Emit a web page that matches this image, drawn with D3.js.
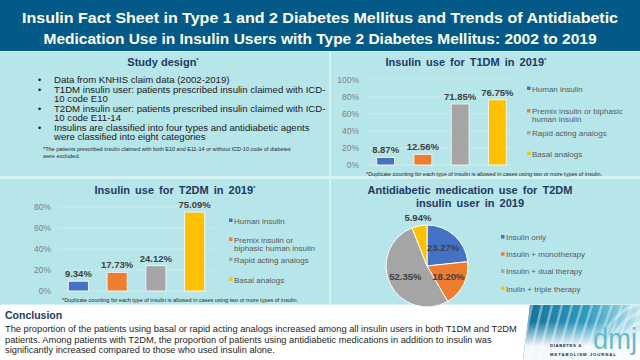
<!DOCTYPE html>
<html lang="en">
<head>
<meta charset="UTF-8">
<title>Insulin Fact Sheet</title>
<script src="https://d3js.org/d3.v7.min.js"></script>
<style>
  body { margin: 0; background: #fff; }
  svg { display: block; font-family: "Liberation Sans", Arial, sans-serif; }
  .tick-label { font-size: 8.5px; fill: #7f7f7f; }
  .val-label { font-size: 9.5px; font-weight: bold; fill: #404040; }
  .legend text { font-size: 8px; fill: #595959; }
  .panel-title { font-size: 11px; font-weight: bold; fill: #1f3864; }
  .note { font-size: 5.5px; fill: #262626; }
</style>
</head>
<body>
<svg id="chart" width="640" height="360"></svg>
<script>
// ---- data ----
const titleLines = [
  "Insulin Fact Sheet in Type 1 and 2 Diabetes Mellitus and Trends of Antidiabetic",
  "Medication Use in Insulin Users with Type 2 Diabetes Mellitus: 2002 to 2019"
];
const studyBullets = [
  ["Data from KNHIS claim data (2002-2019)"],
  ["T1DM insulin user: patients prescribed insulin claimed with ICD-", "10 code E10"],
  ["T2DM insulin user: patients prescribed insulin claimed with ICD-", "10 code E11-14"],
  ["Insulins are classified into four types and antidiabetic agents", "were classified into eight categories"]
];
const studyNote = [
  "*The patients prescribed insulin claimed with both E10 and E11-14 or without ICD-10 code of diabetes",
  "were excluded."
];
const insulinTypes = ["Human insulin", "Premix insulin or biphasic human insulin", "Rapid acting analogs", "Basal analogs"];
const t1dmValues = [8.87, 12.56, 71.85, 76.75];
const t1dmTicks = [0, 20, 40, 60, 80, 100];
const t1dmLegend = [["Human insulin"], ["Premix insulin or biphasic", "human insulin"], ["Rapid acting analogs"], ["Basal analogs"]];
const t2dmValues = [9.34, 17.73, 24.12, 75.09];
const t2dmTicks = [0, 20, 40, 60, 80];
const t2dmLegend = [["Human insulin"], ["Premix insulin or", "biphasic human insulin"], ["Rapid acting analogs"], ["Basal analogs"]];
const dupNote = "*Duplicate counting for each type of insulin is allowed in cases using two or more types of insulin.";
const medCategories = ["Insulin only", "Insulin + monotherapy", "Insulin + dual therapy", "Inulin + triple therapy"];
const medValues = [23.27, 18.20, 52.35, 5.94];
const conclusionLines = [
  "The proportion of the patients using basal or rapid acting analogs increased among all insulin users in both T1DM and T2DM",
  "patients. Among patients with T2DM, the proportion of patients using antidiabetic medications in addition to insulin was",
  "significantly increased compared to those who used insulin alone."
];
const colors = ["#4472c4", "#ed7d31", "#a5a5a5", "#ffc000"];

const svg = d3.select("#chart");
const defs = svg.append("defs");

// ---- backgrounds ----
svg.append("rect").attr("width", 640).attr("height", 360).attr("fill", "#d5f2f3");
svg.append("rect").attr("width", 640).attr("height", 51).attr("fill", "#035a88");
const panels = [[0, 52, 329, 124], [331, 52, 309, 124], [0, 179, 329, 125], [331, 179, 309, 125]];
svg.selectAll(".panel").data(panels).enter().append("rect")
  .attr("x", d => d[0]).attr("y", d => d[1]).attr("width", d => d[2]).attr("height", d => d[3])
  .attr("fill", "#b6e6ea");
svg.append("rect").attr("y", 305).attr("width", 640).attr("height", 55).attr("fill", "#fff");

// ---- title ----
svg.selectAll(".main-title").data(titleLines).enter().append("text")
  .attr("x", 320).attr("y", (d, i) => 23 + i * 21)
  .attr("text-anchor", "middle")
  .attr("textLength", (d, i) => i === 0 ? 596 : 553)
  .attr("lengthAdjust", "spacingAndGlyphs")
  .attr("fill", "#fff").attr("font-size", 15).attr("font-weight", "bold")
  .text(d => d);

// ---- study design ----
const sd = svg.append("g");
sd.append("text").attr("class", "panel-title").attr("x", 163).attr("y", 66).attr("text-anchor", "middle")
  .text("Study design").append("tspan").attr("font-size", 6).attr("dy", -4).text("*");
let ly = 83;
studyBullets.forEach(lines => {
  sd.append("text").attr("x", 38).attr("y", ly).attr("font-size", 9).attr("fill", "#1a1a1a").text("•");
  lines.forEach((l, j) => {
    sd.append("text").attr("x", 54).attr("y", ly).attr("font-size", 9.6).attr("fill", "#1a1a1a").text(l);
    ly += j < lines.length - 1 ? 8.6 : 10.3;
  });
});
studyNote.forEach((l, i) => {
  sd.append("text").attr("class", "note").attr("font-size", 6.6).attr("x", 43).attr("y", 151 + i * 7).text(l);
});

// ---- bar chart helper ----
function barChart(cfg) {
  const g = svg.append("g");
  const x = d3.scaleBand().domain(insulinTypes).range(cfg.xRange).paddingInner(cfg.pad).paddingOuter(cfg.pad / 2);
  const y = d3.scaleLinear().domain([0, d3.max(cfg.ticks)]).range(cfg.yRange);

  g.append("text").attr("class", "panel-title").attr("x", cfg.titleX).attr("y", cfg.titleY)
    .attr("text-anchor", "middle").attr("word-spacing", 2)
    .text(cfg.title).append("tspan").attr("font-size", 6).attr("dy", -4).text("*");

  g.selectAll(".grid").data(cfg.ticks).enter().append("line")
    .attr("x1", cfg.xRange[0]).attr("x2", cfg.xRange[1])
    .attr("y1", d => y(d)).attr("y2", d => y(d))
    .attr("stroke", "#d5eaec").attr("stroke-width", 0.8);
  g.selectAll(".tick-label").data(cfg.ticks).enter().append("text")
    .attr("class", "tick-label").attr("x", cfg.xRange[0] - 8).attr("y", d => y(d) + 3)
    .attr("text-anchor", "end").text(d => d + "%");

  g.selectAll(".bar").data(cfg.values).enter().append("rect")
    .attr("x", (d, i) => x(insulinTypes[i])).attr("width", x.bandwidth())
    .attr("y", d => y(d)).attr("height", d => y(0) - y(d))
    .attr("fill", (d, i) => colors[i]).attr("stroke", "#f2f2f2").attr("stroke-width", 1);
  g.selectAll(".val-label").data(cfg.values).enter().append("text")
    .attr("class", "val-label").attr("text-anchor", "middle")
    .attr("x", (d, i) => x(insulinTypes[i]) + x.bandwidth() / 2)
    .attr("y", d => y(d) - 4).text(d => d.toFixed(2) + "%");

  const leg = g.append("g").attr("class", "legend");
  cfg.legend.forEach((lines, i) => {
    const yy = cfg.legendY[i];
    leg.append("rect").attr("x", cfg.legendX).attr("y", yy - 2.5).attr("width", 3.5).attr("height", 3.5).attr("fill", colors[i]);
    lines.forEach((l, j) => {
      leg.append("text").attr("x", cfg.legendX + 5).attr("y", yy + 2.5 + j * 8).text(l);
    });
  });

  g.append("text").attr("class", "note").attr("x", cfg.noteX).attr("y", cfg.noteY).text(dupNote);
}

barChart({
  title: "Insulin use for T1DM in 2019", titleX: 466, titleY: 66,
  values: t1dmValues, ticks: t1dmTicks, legend: t1dmLegend,
  xRange: [367, 516], yRange: [165, 80], pad: 0.52,
  legendX: 527, legendY: [89, 111.5, 133.5, 154],
  noteX: 366, noteY: 175.5
});
barChart({
  title: "Insulin use for T2DM in 2019", titleX: 175, titleY: 194,
  values: t2dmValues, ticks: t2dmTicks, legend: t2dmLegend,
  xRange: [59, 214], yRange: [291, 207], pad: 0.48,
  legendX: 229, legendY: [221, 240, 260, 280],
  noteX: 62, noteY: 302
});

// ---- conclusion ----
svg.append("text").attr("x", 5).attr("y", 319).attr("font-size", 10.5).attr("font-weight", "bold")
  .attr("fill", "#1f3864").text("Conclusion");
conclusionLines.forEach((l, i) => {
  svg.append("text").attr("x", 5).attr("y", 332 + i * 10.7).attr("font-size", 9.3).attr("fill", "#262626").text(l);
});

// ---- logo ----
const grad = defs.append("linearGradient").attr("id", "lg").attr("x1", 0).attr("x2", 1).attr("y1", 0).attr("y2", 0);
grad.append("stop").attr("offset", 0).attr("stop-color", "#136f9a");
grad.append("stop").attr("offset", 0.55).attr("stop-color", "#2f9cbf");
grad.append("stop").attr("offset", 1).attr("stop-color", "#bfe6ee");
const fade = defs.append("linearGradient").attr("id", "fade").attr("x1", 0).attr("x2", 0).attr("y1", 0).attr("y2", 1);
fade.append("stop").attr("offset", 0.3).attr("stop-color", "#fff").attr("stop-opacity", 0);
fade.append("stop").attr("offset", 0.75).attr("stop-color", "#fff").attr("stop-opacity", 0.95);
defs.append("clipPath").attr("id", "logoClip").append("path")
  .attr("d", "M530,305 L640,305 L640,360 L523,360 Z");
const logo = svg.append("g").attr("clip-path", "url(#logoClip)");
logo.append("rect").attr("x", 523).attr("y", 305).attr("width", 117).attr("height", 55).attr("fill", "url(#lg)");
d3.range(14).forEach(i => {
  logo.append("path")
    .attr("d", `M${520 + i * 9},362 L${532 + i * 10},305`)
    .attr("stroke", "#dff3f7").attr("stroke-opacity", 0.45).attr("stroke-width", 2.6);
});
d3.range(5).forEach(i => {
  logo.append("circle").attr("cx", 652).attr("cy", 352).attr("r", 14 + i * 9)
    .attr("fill", "none").attr("stroke", "#ffffff").attr("stroke-opacity", 0.35).attr("stroke-width", 3.5);
});
logo.append("rect").attr("x", 523).attr("y", 305).attr("width", 117).attr("height", 55).attr("fill", "url(#fade)");
logo.append("text").attr("x", 593).attr("y", 349).attr("font-size", 30).attr("fill", "#66b9cc")
  .attr("textLength", 44).attr("lengthAdjust", "spacingAndGlyphs").text("dmj");
logo.append("text").attr("x", 550).attr("y", 347).attr("font-size", 4.3).attr("font-weight", "bold")
  .attr("letter-spacing", 0.6).attr("fill", "#1b2a4a").text("DIABETES &");
logo.append("text").attr("x", 550).attr("y", 356).attr("font-size", 4.3).attr("font-weight", "bold")
  .attr("letter-spacing", 0.9).attr("fill", "#1b2a4a").text("METABOLISM JOURNAL");

// ---- pie ----
const pg = svg.append("g");
pg.selectAll(".pt").data(["Antidiabetic medication use for T2DM", "insulin user in 2019"]).enter().append("text")
  .attr("class", "panel-title").attr("font-size", 12).attr("x", 470).attr("y", (d, i) => 194 + i * 13)
  .attr("text-anchor", "middle").attr("word-spacing", 2).text(d => d);

const cx = 427, cy = 266, r = 41;
const pie = d3.pie().sort(null).value(d => d)(medValues);
const arc = d3.arc().innerRadius(0).outerRadius(r);
const pieG = pg.append("g").attr("transform", `translate(${cx},${cy})`);
pieG.selectAll("path").data(pie).enter().append("path")
  .attr("d", arc).attr("fill", (d, i) => colors[i]).attr("stroke", "#fff").attr("stroke-width", 1);
pieG.selectAll(".val-label").data(pie).enter().append("text")
  .attr("class", "val-label").attr("text-anchor", "middle").attr("dy", "0.35em")
  .attr("transform", d => {
    const lr = d.data < 10 ? 49 : 24;
    const c = d3.arc().innerRadius(lr).outerRadius(lr).centroid(d);
    return `translate(${c[0]},${c[1]})`;
  })
  .text(d => d.data.toFixed(2) + "%");

const pl = pg.append("g").attr("class", "legend");
medCategories.forEach((c, i) => {
  const yy = 237 + i * 17.2;
  pl.append("rect").attr("x", 501).attr("y", yy - 2).attr("width", 3.5).attr("height", 3.5).attr("fill", colors[i]);
  pl.append("text").attr("x", 506).attr("y", yy + 3).attr("font-size", 8.5).text(c);
});
</script>
</body>
</html>
